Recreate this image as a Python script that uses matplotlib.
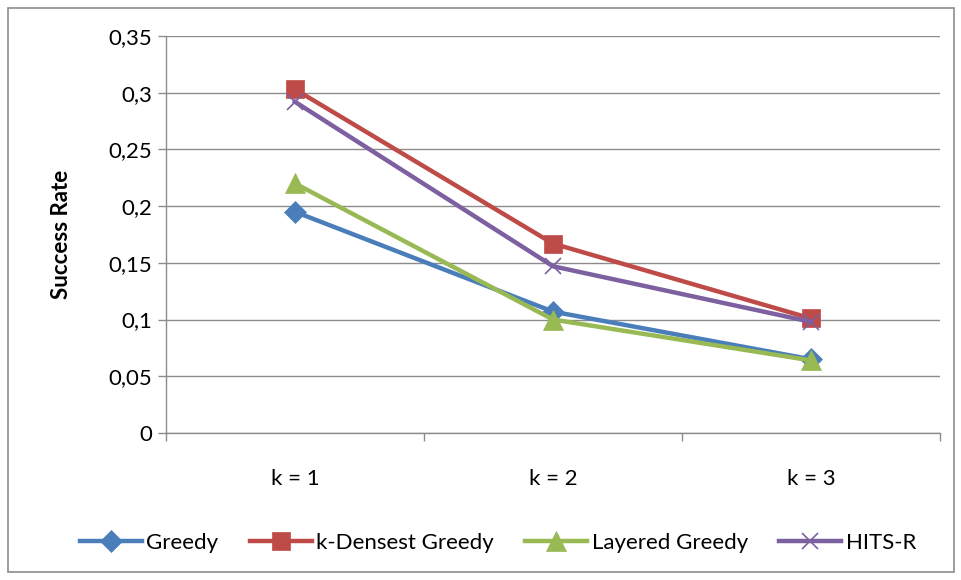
import matplotlib
matplotlib.use("Agg")
import matplotlib.pyplot as plt
from matplotlib.patches import Rectangle
import numpy as np

categories = ["k = 1", "k = 2", "k = 3"]
greedy = [0.195, 0.107, 0.065]
k_densest = [0.303, 0.167, 0.101]
layered = [0.220, 0.100, 0.064]
hits_r = [0.292, 0.147, 0.098]
y_ticks = [0, 0.05, 0.1, 0.15, 0.2, 0.25, 0.3, 0.35]
y_labels = ["0", "0,05", "0,1", "0,15", "0,2", "0,25", "0,3", "0,35"]

plt.rcParams["font.family"] = ["Lato", "DejaVu Sans"]

fig = plt.figure(figsize=(9.62, 5.8), dpi=100)
ax = fig.add_axes([166 / 962, 1 - 433 / 580, 774 / 962, 397 / 580])

# outer chart frame
fig.patches.append(Rectangle((8 / 962, 8 / 580), 946 / 962, 564 / 580,
                             transform=fig.transFigure, fill=False,
                             edgecolor="#8c8c8c", linewidth=1.2))

x = np.arange(len(categories))
series = [
    ("Greedy", greedy, "#4a7ebb", "D", 11),
    ("k-Densest Greedy", k_densest, "#be4b48", "s", 13),
    ("Layered Greedy", layered, "#98b954", "^", 14),
    ("HITS-R", hits_r, "#7d60a0", "x", 12),
]
for name, vals, col, mk, ms in series:
    ax.plot(x, vals, color=col, linewidth=3.2, marker=mk, markersize=ms,
            markeredgewidth=1.2 if mk == "x" else 0.5, markeredgecolor=col,
            label=name, clip_on=False)

ax.set_xlim(-0.5, 2.5)
ax.set_ylim(0, 0.35)
ax.set_yticks(y_ticks)
ax.set_yticklabels(y_labels)
ax.yaxis.grid(True, color="#8c8c8c", linewidth=1.0)
ax.set_axisbelow(True)

ax.set_xticks(x)
ax.set_xticklabels(categories)
ax.set_xticks([-0.5, 0.5, 1.5, 2.5], minor=True)
ax.tick_params(axis="x", which="major", length=0, pad=26, labelsize=16)
ax.tick_params(axis="x", which="minor", length=6, color="#8c8c8c", width=1)
ax.tick_params(axis="y", length=6, color="#8c8c8c", width=1, labelsize=16, pad=4)

for s in ["top", "right"]:
    ax.spines[s].set_visible(False)
for s in ["left", "bottom"]:
    ax.spines[s].set_color("#8c8c8c")
    ax.spines[s].set_linewidth(1)

ax.set_ylabel("Success Rate", fontsize=16, fontweight="bold", labelpad=26)

leg = fig.legend(loc="center", bbox_to_anchor=(498 / 962, 1 - 543 / 580), ncol=4,
                 frameon=False, fontsize=16, handlelength=2.8, columnspacing=1.4,
                 handletextpad=0.2)

fig.savefig("out.png", dpi=100)
